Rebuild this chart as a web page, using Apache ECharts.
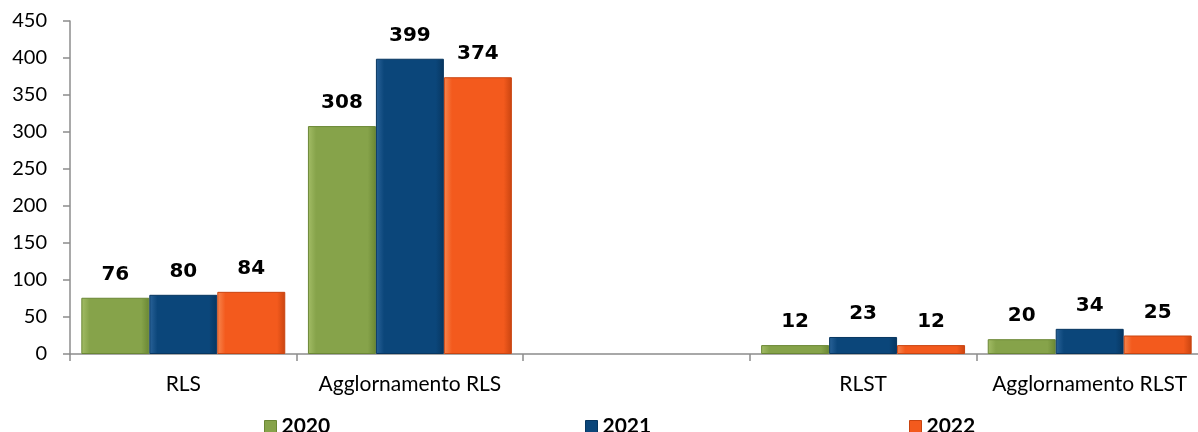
<!DOCTYPE html>
<html>
<head>
<meta charset="utf-8">
<script src="https://cdn.jsdelivr.net/npm/echarts@6/dist/echarts.min.js"></script>
<style>
  html, body { margin: 0; padding: 0; background: #ffffff; }
  #chart { width: 1198px; height: 432px; }
</style>
</head>
<body>
<div id="chart"></div>
<script>
// Categories (the third slot is intentionally left empty)
const categories = ['RLS', 'Agglornamento RLS', '', 'RLST', 'Agglornamento RLST'];
const years = ['2020', '2021', '2022'];
const values2020 = [76, 308, null, 12, 20];
const values2021 = [80, 399, null, 23, 34];
const values2022 = [84, 374, null, 12, 25];
const yTicks = { min: 0, max: 450, interval: 50 };

const palette = [
  { face: '#86a34a', light: '#a3bd66', dark: '#6a8734' },
  { face: '#0b467a', light: '#2a6399', dark: '#073660' },
  { face: '#f35a1d', light: '#f7864f', dark: '#c94410' }
];

function barStyle(p) {
  return {
    color: new echarts.graphic.LinearGradient(0, 0, 1, 0, [
      { offset: 0, color: p.light },
      { offset: 0.12, color: p.face },
      { offset: 0.88, color: p.face },
      { offset: 1, color: p.dark }
    ]),
    borderColor: p.dark,
    borderWidth: 1
  };
}

const seriesValues = [values2020, values2021, values2022];
const series = years.map((name, i) => ({
  name: name,
  type: 'bar',
  data: seriesValues[i],
  barGap: '0%',
  barCategoryGap: '10%',
  itemStyle: barStyle(palette[i]),
  label: {
    show: true,
    position: 'top',
    distance: 13,
    fontFamily: 'DejaVu Sans',
    fontWeight: 'bold',
    fontSize: 20,
    color: '#000000'
  }
}));

const legendLefts = [259, 580, 904];
const legends = years.map((name, i) => ({
  data: [{ name: name, itemStyle: { color: palette[i].face, borderColor: palette[i].dark, borderWidth: 1 } }],
  left: legendLefts[i],
  top: 411,
  icon: 'rect',
  itemWidth: 12,
  itemHeight: 12,
  itemGap: 4,
  textStyle: { fontFamily: 'Lato', fontWeight: 'bold', fontSize: 21, color: '#000000' },
  selectedMode: false
}));

const chart = echarts.init(document.getElementById('chart'), null, { renderer: 'canvas' });
chart.setOption({
  animation: false,
  backgroundColor: '#ffffff',
  grid: { left: 70, top: 21, bottom: 78, width: 1133, containLabel: false, outerBoundsMode: 'none' },
  legend: legends,
  xAxis: {
    type: 'category',
    data: categories,
    axisLine: { lineStyle: { color: '#8c8c8c', width: 1.5 } },
    axisTick: { show: true, length: 7, alignWithLabel: false, lineStyle: { color: '#8c8c8c', width: 1.5 } },
    axisLabel: { margin: 20, fontFamily: 'Lato', fontSize: 21, color: '#000000', interval: 0 }
  },
  yAxis: {
    type: 'value',
    min: yTicks.min,
    max: yTicks.max,
    interval: yTicks.interval,
    splitLine: { show: false },
    axisLine: { show: true, lineStyle: { color: '#8c8c8c', width: 1.5 } },
    axisTick: { show: true, length: 7, lineStyle: { color: '#8c8c8c', width: 1.5 } },
    axisLabel: { margin: 23, fontFamily: 'Lato', fontSize: 20, color: '#000000' }
  },
  series: series
});
</script>
</body>
</html>
